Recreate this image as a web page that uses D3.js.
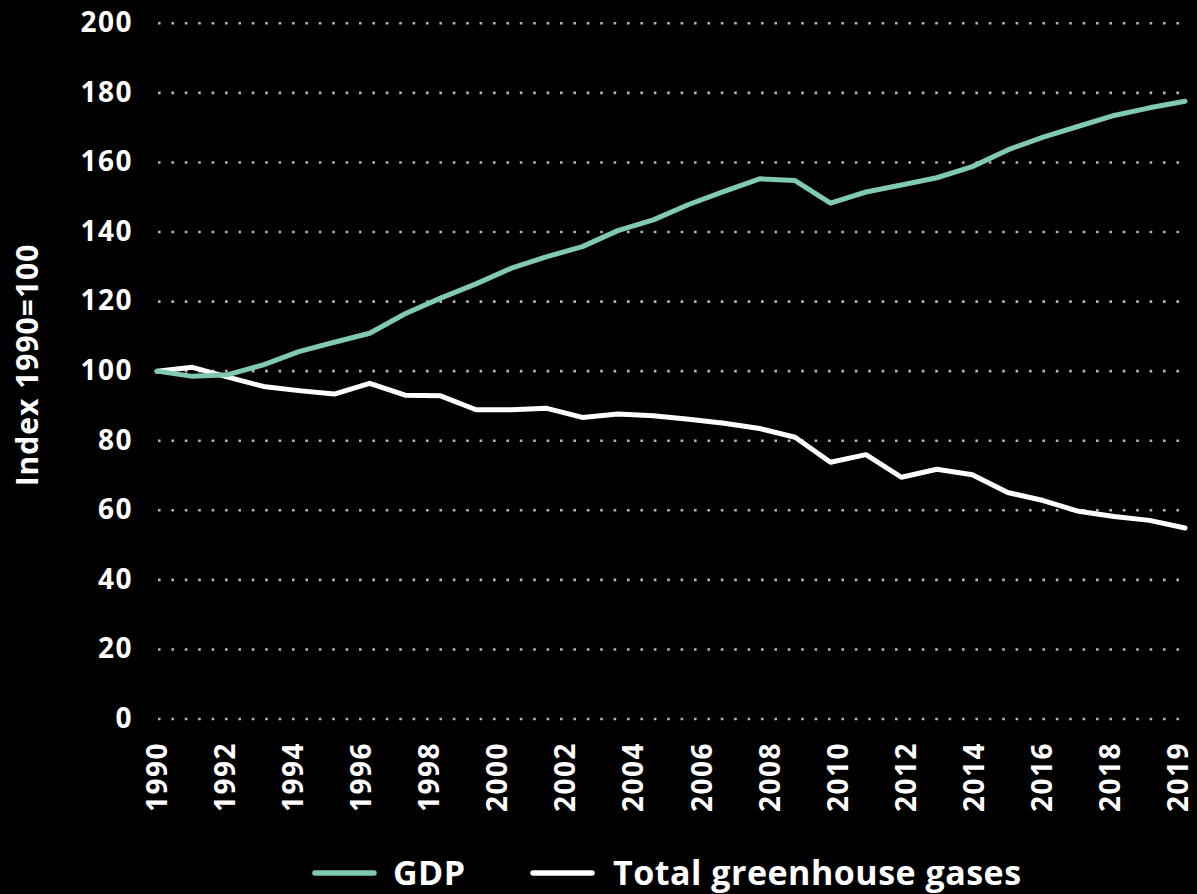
<!DOCTYPE html>
<html>
<head>
  <title>GDP vs greenhouse gases</title>
</head>
<style>
  body {
    margin: 0;
    background-color: #000;
  }
  svg text {
    font-family: "Open Sans", "Lato", sans-serif;
    font-weight: 700;
    fill: #fff;
  }
</style>
<body>
  <script src="https://d3js.org/d3.v7.min.js"></script>
  <script>
    // index 1990 = 100
    const years = [1990, 1991, 1992, 1993, 1994, 1995, 1996, 1997, 1998, 1999,
                   2000, 2001, 2002, 2003, 2004, 2005, 2006, 2007, 2008, 2009,
                   2010, 2011, 2012, 2013, 2014, 2015, 2016, 2017, 2018, 2019];

    const gdp = [100, 98.5, 99.0, 101.8, 105.6, 108.3, 110.9, 116.5, 121.0, 125.1,
                 129.6, 132.9, 135.8, 140.4, 143.5, 147.9, 151.7, 155.3, 154.8, 148.3,
                 151.5, 153.5, 155.6, 158.8, 163.6, 167.3, 170.4, 173.5, 175.7, 177.6];

    const ghg = [100, 101.1, 98.3, 95.6, 94.4, 93.4, 96.5, 93.1, 92.9, 88.9,
                 88.9, 89.3, 86.7, 87.7, 87.2, 86.2, 85.0, 83.5, 81.0, 73.8,
                 76.0, 69.5, 71.8, 70.2, 65.1, 62.8, 59.7, 58.2, 57.1, 54.9];

    // labels shown under the axis (evenly spaced, as in the original)
    const tickLabels = ["1990", "1992", "1994", "1996", "1998", "2000", "2002", "2004",
                        "2006", "2008", "2010", "2012", "2014", "2016", "2018", "2019"];
    const yTicks = [0, 20, 40, 60, 80, 100, 120, 140, 160, 180, 200];

    const seriesNames = ["GDP", "Total greenhouse gases"];
    const colors = ["#80c9b3", "#ffffff"];

    const w = 1197;
    const h = 894;
    const mLeft = 157, mRight = 1185, mTop = 23.3, mBottom = 719;

    const svg = d3.select("body")
                  .append("svg")
                  .attr("width", w)
                  .attr("height", h)

    const x = d3.scalePoint().domain(years).range([mLeft, mRight]);
    const xLab = d3.scalePoint().domain(tickLabels).range([mLeft, 1178]);
    const y = d3.scaleLinear().domain([0, 200]).range([mBottom, mTop]);

    // dotted grid
    svg.append("g")
       .selectAll("line")
       .data(yTicks)
       .join("line")
         .attr("x1", 158)
         .attr("x2", 1181)
         .attr("y1", d => y(d))
         .attr("y2", d => y(d))
         .attr("stroke", "#b4b4b4")
         .attr("stroke-width", 2.6)
         .attr("stroke-dasharray", "2.6 10.8")

    // y axis
    const yAxis = svg.append("g")
       .attr("transform", "translate(133,0)")
       .call(d3.axisLeft(y).tickValues(yTicks).tickSize(0).tickPadding(0))
    yAxis.select(".domain").remove()
    yAxis.selectAll("text")
       .attr("font-size", 28)
       .attr("letter-spacing", 1.5)
       .attr("dy", "0.3em")

    // x axis
    const xAxis = svg.append("g")
       .attr("transform", "translate(0," + mBottom + ")")
       .call(d3.axisBottom(xLab).tickSize(0))
    xAxis.select(".domain").remove()
    xAxis.selectAll("text")
       .attr("font-size", 28)
       .attr("letter-spacing", 1.5)
       .attr("transform", "rotate(-90)")
       .attr("text-anchor", "end")
       .attr("x", -23)
       .attr("y", 0)
       .attr("dy", "0.34em")

    svg.selectAll(".tick text").attr("fill", "#fff")
    svg.selectAll("g[font-family]").attr("font-family", null)

    // y title
    svg.append("text")
       .attr("transform", "translate(27,365) rotate(-90)")
       .attr("text-anchor", "middle")
       .attr("dy", "0.36em")
       .attr("font-size", 30)
       .attr("letter-spacing", 1)
       .text("Index 1990=100")

    // lines
    const line = d3.line()
                   .x((d, i) => x(years[i]))
                   .y(d => y(d))

    svg.append("g")
       .selectAll("path")
       .data([ghg, gdp])
       .join("path")
         .attr("d", line)
         .attr("fill", "none")
         .attr("stroke", (d, i) => i === 0 ? colors[1] : colors[0])
         .attr("stroke-width", 5)
         .attr("stroke-linecap", "round")
         .attr("stroke-linejoin", "round")

    // legend
    const legendX = [315, 533];
    const legend = svg.append("g")
       .selectAll("g")
       .data(seriesNames)
       .join("g")
         .attr("transform", (d, i) => "translate(" + legendX[i] + ",873)")
    legend.append("line")
       .attr("x1", 0)
       .attr("x2", 59)
       .attr("stroke", (d, i) => colors[i])
       .attr("stroke-width", 5.5)
       .attr("stroke-linecap", "round")
    legend.append("text")
       .attr("x", (d, i) => i === 0 ? 78 : 80)
       .attr("dy", "0.36em")
       .attr("font-size", 34)
       .attr("letter-spacing", 0.5)
       .text(d => d)
  </script>
</body>
</html>
